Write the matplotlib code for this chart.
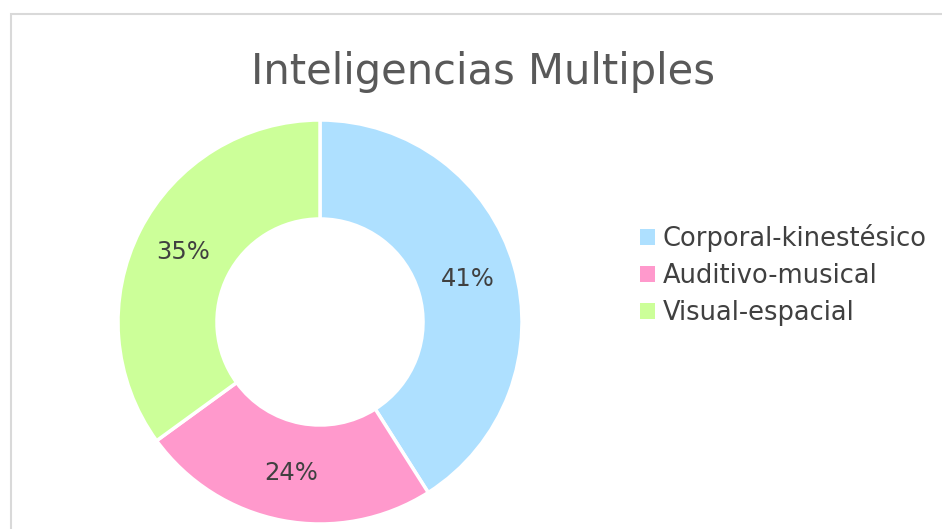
import matplotlib
matplotlib.use("Agg")
import matplotlib.pyplot as plt
from matplotlib.patches import Rectangle, Patch

# datos del grafico
categorias = ["Corporal-kinestésico", "Auditivo-musical", "Visual-espacial"]
porcentajes = [41, 24, 35]
colores = ["#AEE0FF", "#FF99CC", "#CCFF99"]

plt.rcParams["font.family"] = ["DejaVu Sans"]

W, H = 942, 529
fig = plt.figure(figsize=(W / 100, H / 100), dpi=100)

# marco gris del grafico
fig.patches.append(Rectangle((11 / W, -0.1), 1.2, (H - 14) / H + 0.1,
                             transform=fig.transFigure, fill=False,
                             edgecolor="#D9D9D9", linewidth=1.5))

# dona: centro (320, 322) px, radio 202 px
cx, cy, r = 320, 322, 202
ax = fig.add_axes([(cx - r) / W, (H - cy - r) / H, 2 * r / W, 2 * r / H])
wedges, texts, autotexts = ax.pie(
    porcentajes, colors=colores, startangle=90, counterclock=False,
    autopct="%d%%", pctdistance=0.76, radius=1,
    wedgeprops=dict(width=0.49, edgecolor="white", linewidth=2.5),
    textprops=dict(fontsize=17.5, color="#404040"))
ax.set_xlim(-1, 1)
ax.set_ylim(-1, 1)
ax.set_aspect("equal")
ax.axis("off")

fig.text(483 / W, 1 - 72 / H, "Inteligencias Multiples", ha="center", va="center",
         fontsize=30, color="#595959")

handles = [Patch(facecolor=c, edgecolor="none") for c in colores]
fig.legend(handles, categorias, loc="center left", bbox_to_anchor=(640 / W, 1 - 275 / H),
           frameon=False, fontsize=18.5, labelcolor="#404040", borderpad=0, borderaxespad=0,
           handlelength=0.58, handleheight=0.58, handletextpad=0.3, labelspacing=0.44)

fig.savefig("out.png", dpi=100)
